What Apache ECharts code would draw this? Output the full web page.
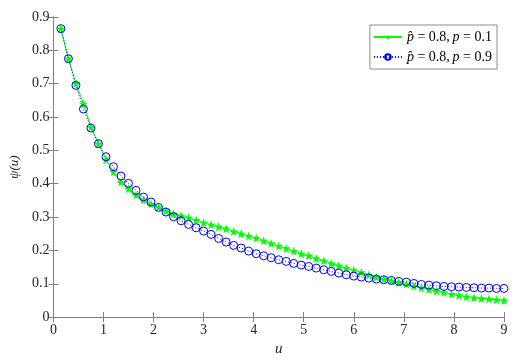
<!DOCTYPE html>
<html>
<head>
<meta charset="utf-8">
<script src="https://cdn.jsdelivr.net/npm/echarts@6/dist/echarts.min.js"></script>
<style>html,body{margin:0;padding:0;background:#fff}#c{width:518px;height:362px}</style>
</head>
<body>
<div id="c"></div>
<script>
var uValues = [0.15,0.30,0.45,0.60,0.75,0.90,1.05,1.20,1.35,1.50,1.65,1.80,1.95,2.10,2.25,2.40,2.55,2.70,2.85,3.00,
  3.15,3.30,3.45,3.60,3.75,3.90,4.05,4.20,4.35,4.50,4.65,4.80,4.95,5.10,5.25,5.40,5.55,5.70,5.85,6.00,
  6.15,6.30,6.45,6.60,6.75,6.90,7.05,7.20,7.35,7.50,7.65,7.80,7.95,8.10,8.25,8.40,8.55,8.70,8.85,9.00];
var psiP01 = [0.865,0.775,0.701,0.640,0.570,0.520,0.472,0.436,0.405,0.385,0.366,0.352,0.339,0.329,0.318,0.310,0.304,0.298,0.291,0.283,
  0.277,0.271,0.265,0.257,0.250,0.243,0.237,0.229,0.221,0.213,0.206,0.198,0.190,0.184,0.176,0.169,0.161,0.154,0.147,0.141,
  0.134,0.127,0.120,0.114,0.109,0.104,0.099,0.093,0.088,0.083,0.078,0.074,0.069,0.065,0.061,0.058,0.056,0.054,0.052,0.050];
var psiP09 = [0.865,0.775,0.695,0.624,0.567,0.520,0.481,0.451,0.423,0.401,0.380,0.360,0.345,0.329,0.315,0.301,0.289,0.278,0.268,0.258,
  0.248,0.236,0.225,0.215,0.207,0.198,0.190,0.184,0.178,0.172,0.167,0.161,0.156,0.152,0.147,0.142,0.137,0.132,0.127,0.123,
  0.120,0.117,0.114,0.112,0.110,0.107,0.105,0.101,0.098,0.096,0.094,0.092,0.091,0.090,0.089,0.088,0.087,0.087,0.086,0.086];
var seriesNames = ['p̂=0.8,p=0.1', 'p̂=0.8,p=0.9'];
var legendRich = ['{i|p̂}\u2005=\u20050.8,\u2009{i|p}\u2005=\u20050.1', '{i|p̂}\u2005=\u20050.8,\u2009{i|p}\u2005=\u20050.9'];

function pairs(xs, ys){ return xs.map(function(x,i){ return [x, ys[i]]; }); }

var serif = 'Liberation Serif';
var axisColor = '#808080';
var labelColor = '#262626';
var star = 'path://M0,-10 L2.35,-3.24 L9.51,-3.09 L3.8,1.24 L5.88,8.09 L0,4 L-5.88,8.09 L-3.8,1.24 L-9.51,-3.09 L-2.35,-3.24 Z';

var chart = echarts.init(document.getElementById('c'), null, {renderer:'canvas'});
var baseX = {type:'value', min:0, max:9, interval:1, splitLine:{show:false},
  axisLine:{lineStyle:{color:axisColor, width:1}}, axisTick:{inside:true, length:5, lineStyle:{color:axisColor}}};
var baseY = {type:'value', min:0, max:0.9, interval:0.1, splitLine:{show:false},
  axisLine:{lineStyle:{color:axisColor, width:1}}, axisTick:{inside:true, length:5, lineStyle:{color:axisColor}}};
chart.setOption({
  animation:false,
  backgroundColor:'#fff',
  grid:{left:47, right:14, top:17, bottom:37},
  xAxis:[
    Object.assign({}, baseX, {position:'bottom',
      axisLabel:{color:labelColor, fontFamily:serif, fontSize:14, margin:6},
      name:'u', nameLocation:'middle', nameGap:17,
      nameTextStyle:{fontFamily:serif, fontStyle:'italic', fontSize:15, color:labelColor}}),
    Object.assign({}, baseX, {position:'top', axisLabel:{show:false}})
  ],
  yAxis:[
    Object.assign({}, baseY, {position:'left',
      axisLabel:{color:labelColor, fontFamily:serif, fontSize:14, margin:4,
        formatter:function(v){ return v===0 ? '0' : v.toFixed(1); }},
      name:'ψ(u)', nameLocation:'middle', nameGap:26,
      nameTextStyle:{fontFamily:serif, fontStyle:'italic', fontSize:13, color:labelColor}}),
    Object.assign({}, baseY, {position:'right', axisLabel:{show:false}})
  ],
  legend:{
    orient:'vertical', right:21, top:25, padding:[5,5,5,3], itemGap:6,
    itemWidth:28, itemHeight:7,
    backgroundColor:'#fff', borderColor:'#8c8c8c', borderWidth:1, borderRadius:0,
    data:seriesNames,
    formatter:function(n){ return legendRich[seriesNames.indexOf(n)]; },
    textStyle:{fontFamily:serif, fontSize:14, color:'#000',
      rich:{i:{fontFamily:serif, fontStyle:'italic', fontSize:14, color:'#000'}}}
  },
  series:[
    {name:seriesNames[0], type:'line', xAxisIndex:0, yAxisIndex:0, data:pairs(uValues, psiP01),
      symbol:star, symbolSize:9, showSymbol:true,
      lineStyle:{color:'#00ff00', width:1},
      itemStyle:{color:'#00ff00'}},
    {name:seriesNames[1], type:'line', xAxisIndex:0, yAxisIndex:0, data:pairs(uValues, psiP09),
      symbol:'circle', symbolSize:8, showSymbol:true,
      lineStyle:{color:'#0000ff', width:1, type:[1,2]},
      itemStyle:{color:'rgba(255,255,255,0)', borderColor:'#0000ff', borderWidth:1}}
  ]
});
</script>
</body>
</html>
